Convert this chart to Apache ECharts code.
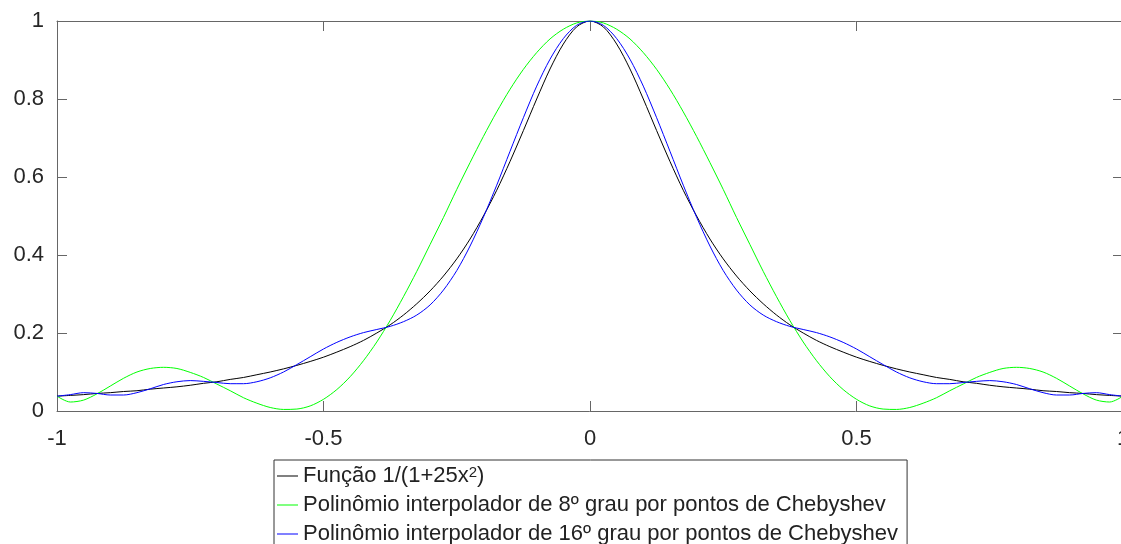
<!DOCTYPE html>
<html>
<head>
<meta charset="utf-8">
<script src="https://cdn.jsdelivr.net/npm/echarts@6/dist/echarts.min.js"></script>
<style>
html, body { margin: 0; padding: 0; background: #fff; }
#chart { width: 1121px; height: 544px; }
</style>
</head>
<body>
<div id="chart"></div>
<script>
// sample positions along x
var xs = [-1, -0.975, -0.95, -0.925, -0.9, -0.875, -0.85, -0.825, -0.8, -0.775,
  -0.75, -0.725, -0.7, -0.675, -0.65, -0.625, -0.6, -0.575, -0.55, -0.525,
  -0.5, -0.475, -0.45, -0.425, -0.4, -0.375, -0.35, -0.325, -0.3, -0.275,
  -0.25, -0.225, -0.2, -0.175, -0.15, -0.125, -0.1, -0.075, -0.05, -0.025,
  0,
  0.025, 0.05, 0.075, 0.1, 0.125, 0.15, 0.175, 0.2, 0.225, 0.25,
  0.275, 0.3, 0.325, 0.35, 0.375, 0.4, 0.425, 0.45, 0.475, 0.5,
  0.525, 0.55, 0.575, 0.6, 0.625, 0.65, 0.675, 0.7, 0.725, 0.75,
  0.775, 0.8, 0.825, 0.85, 0.875, 0.9, 0.925, 0.95, 0.975, 1];

// black curve
var runge = [0.038, 0.040, 0.042, 0.045, 0.047, 0.050, 0.052, 0.056, 0.059, 0.062,
  0.066, 0.071, 0.075, 0.081, 0.086, 0.093, 0.100, 0.108, 0.117, 0.127,
  0.138, 0.151, 0.165, 0.181, 0.200, 0.221, 0.246, 0.275, 0.308, 0.346,
  0.390, 0.441, 0.500, 0.566, 0.640, 0.719, 0.800, 0.877, 0.941, 0.985,
  1.000,
  0.985, 0.941, 0.877, 0.800, 0.719, 0.640, 0.566, 0.500, 0.441, 0.390,
  0.346, 0.308, 0.275, 0.246, 0.221, 0.200, 0.181, 0.165, 0.151, 0.138,
  0.127, 0.117, 0.108, 0.100, 0.093, 0.086, 0.081, 0.075, 0.071, 0.066,
  0.062, 0.059, 0.056, 0.052, 0.050, 0.047, 0.045, 0.042, 0.040, 0.038];

// green curve (8th degree)
var cheb8 = [0.038, 0.023, 0.028, 0.044, 0.064, 0.084, 0.100, 0.109, 0.112, 0.109,
  0.099, 0.086, 0.069, 0.052, 0.034, 0.020, 0.009, 0.004, 0.005, 0.013,
  0.030, 0.055, 0.088, 0.129, 0.177, 0.232, 0.293, 0.358, 0.427, 0.496,
  0.568, 0.637, 0.704, 0.767, 0.825, 0.876, 0.919, 0.954, 0.979, 0.995,
  1.000,
  0.995, 0.979, 0.954, 0.919, 0.876, 0.825, 0.767, 0.704, 0.637, 0.568,
  0.496, 0.427, 0.358, 0.293, 0.232, 0.177, 0.129, 0.088, 0.055, 0.030,
  0.013, 0.005, 0.004, 0.009, 0.020, 0.034, 0.052, 0.069, 0.086, 0.099,
  0.109, 0.112, 0.109, 0.100, 0.084, 0.064, 0.044, 0.028, 0.023, 0.038];

// blue curve (16th degree)
var cheb16 = [0.038, 0.042, 0.047, 0.045, 0.041, 0.041, 0.047, 0.057, 0.068, 0.075,
  0.078, 0.076, 0.073, 0.070, 0.070, 0.075, 0.085, 0.100, 0.119, 0.139,
  0.159, 0.176, 0.190, 0.201, 0.209, 0.217, 0.229, 0.246, 0.272, 0.310,
  0.360, 0.423, 0.497, 0.579, 0.666, 0.752, 0.833, 0.902, 0.955, 0.989,
  1.000,
  0.989, 0.955, 0.902, 0.833, 0.752, 0.666, 0.579, 0.497, 0.423, 0.360,
  0.310, 0.272, 0.246, 0.229, 0.217, 0.209, 0.201, 0.190, 0.176, 0.159,
  0.139, 0.119, 0.100, 0.085, 0.075, 0.070, 0.070, 0.073, 0.076, 0.078,
  0.075, 0.068, 0.057, 0.047, 0.041, 0.041, 0.045, 0.047, 0.042, 0.038];

var xTicks = [-1, -0.5, 0, 0.5, 1];
var yTicks = [0, 0.2, 0.4, 0.6, 0.8, 1];

var seriesNames = [
  'Função 1/(1+25x²)',
  'Polinômio interpolador de 8º grau por pontos de Chebyshev',
  'Polinômio interpolador de 16º grau por pontos de Chebyshev'
];
var seriesColors = ['#000000', '#00ff00', '#0000ff'];
var seriesValues = [runge, cheb8, cheb16];

var font = 'Liberation Sans';
var axisColor = '#666666';

function pairs(vals) {
  return xs.map(function (x, i) { return [x, vals[i]]; });
}

function makeX(pos, labels) {
  return {
    type: 'value',
    position: pos,
    min: xTicks[0],
    max: xTicks[xTicks.length - 1],
    interval: xTicks[1] - xTicks[0],
    axisLine: { show: true, onZero: false, lineStyle: { color: axisColor, width: 1 } },
    axisTick: { show: true, inside: true, length: 10, lineStyle: { color: axisColor } },
    axisLabel: { show: labels, fontSize: 22, fontFamily: font, color: '#262626', margin: 17 },
    splitLine: { show: false }
  };
}

function makeY(pos, labels) {
  return {
    type: 'value',
    position: pos,
    min: yTicks[0],
    max: yTicks[yTicks.length - 1],
    interval: yTicks[1] - yTicks[0],
    axisLine: { show: true, onZero: false, lineStyle: { color: axisColor, width: 1 } },
    axisTick: { show: true, inside: true, length: 10, lineStyle: { color: axisColor } },
    axisLabel: { show: labels, fontSize: 22, fontFamily: font, color: '#262626', margin: 13 },
    splitLine: { show: false }
  };
}

var series = seriesNames.map(function (name, i) {
  return {
    name: name,
    type: 'line',
    xAxisIndex: 0,
    yAxisIndex: 0,
    data: pairs(seriesValues[i]),
    symbol: 'none',
    smooth: 0.3,
    color: seriesColors[i],
    lineStyle: { color: seriesColors[i], width: 1 }
  };
});

var option = {
  animation: false,
  backgroundColor: '#ffffff',
  grid: { left: 57, right: -2, top: 21, bottom: 133, outerBoundsMode: 'none', containLabel: false },
  xAxis: [makeX('bottom', true), makeX('top', false)],
  yAxis: [makeY('left', true), makeY('right', false)],
  legend: {
    data: seriesNames,
    orient: 'vertical',
    left: 274,
    top: 460,
    height: 120,
    icon: 'rect',
    itemWidth: 21,
    itemHeight: 1,
    itemGap: 7,
    padding: [5, 9, 4, 3],
    borderColor: '#333333',
    borderWidth: 1,
    selectedMode: false,
    formatter: function (name) {
      return name.replace('²', '{sup|2}');
    },
    textStyle: {
      fontSize: 22,
      fontFamily: font,
      color: '#222222',
      lineHeight: 22,
      rich: {
        sup: { fontSize: 15, fontFamily: font, color: '#222222', lineHeight: 15, verticalAlign: 'top' }
      }
    }
  },
  series: series
};

var myChart = echarts.init(document.getElementById('chart'));
myChart.setOption(option);
window.addEventListener('resize', function () {
  myChart.resize();
});
</script>
</body>
</html>
